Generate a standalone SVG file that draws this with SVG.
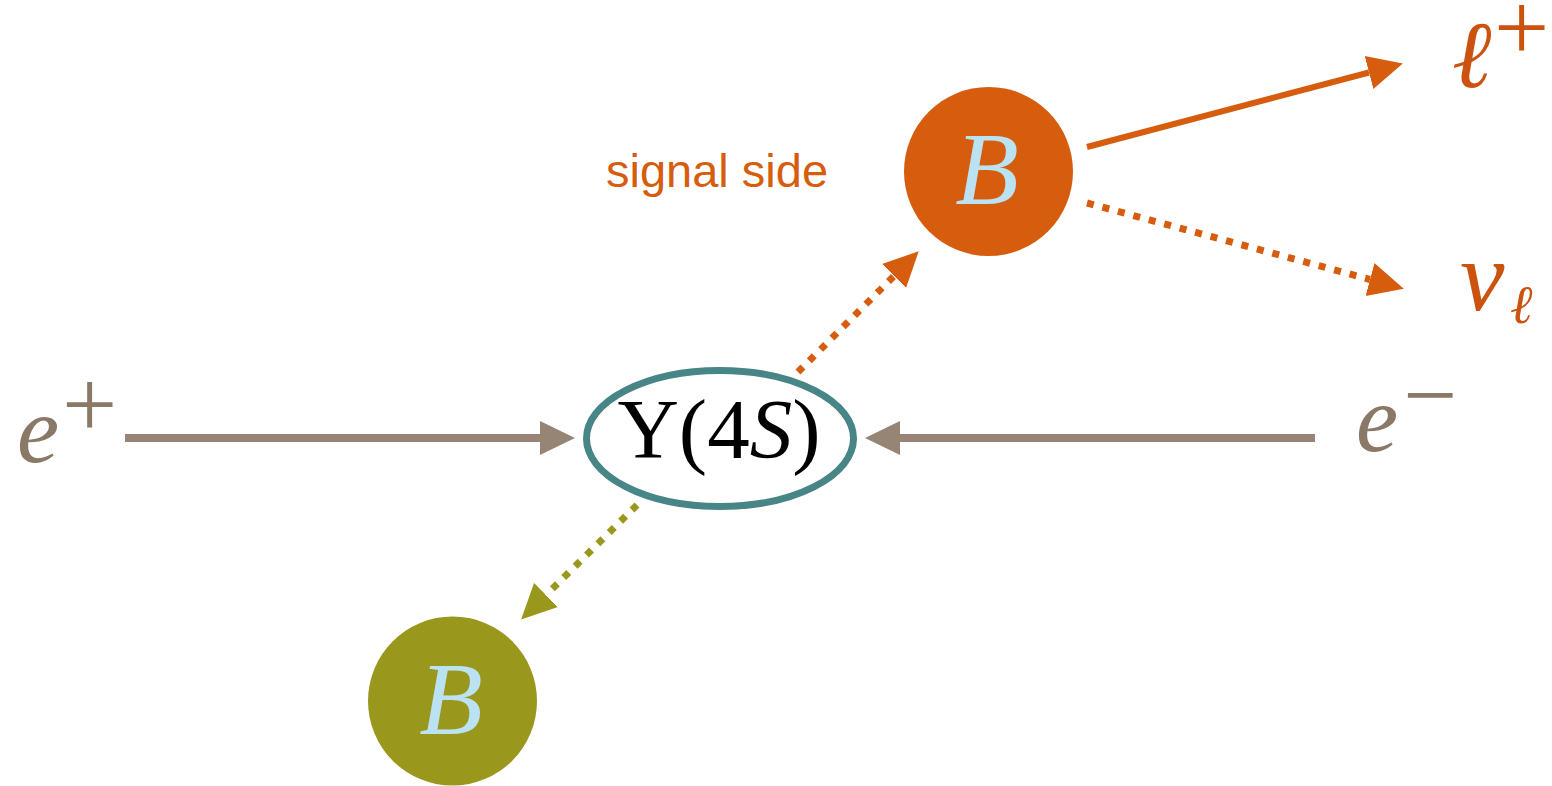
<svg xmlns="http://www.w3.org/2000/svg" width="1552" height="786" viewBox="0 0 1552 786">
<style>
.math{font-family:"Liberation Serif","DejaVu Serif",serif;font-style:italic}
.up{font-family:"Liberation Serif","DejaVu Serif",serif;font-style:normal}
.bl{fill:#BAE2F2;font-size:104px;text-anchor:middle}
.beam{stroke:#968475;stroke-width:8;fill:none}
.dot{stroke-width:7;stroke-dasharray:7 9;fill:none}
</style>
<defs>
<marker id="ahBrown" markerUnits="userSpaceOnUse" markerWidth="36" markerHeight="36" refX="0" refY="18" orient="auto" viewBox="0 0 36 36"><path d="M0,1 L35,18 L0,35 z" fill="#968475"/></marker>
<marker id="ahOrange" markerUnits="userSpaceOnUse" markerWidth="36" markerHeight="36" refX="0" refY="18" orient="auto" viewBox="0 0 36 36"><path d="M0,1 L35,18 L0,35 z" fill="#D65D0E"/></marker>
<marker id="ahOlive" markerUnits="userSpaceOnUse" markerWidth="36" markerHeight="36" refX="0" refY="18" orient="auto" viewBox="0 0 36 36"><path d="M0,1 L35,18 L0,35 z" fill="#9A981C"/></marker>
</defs>
<rect width="1552" height="786" fill="#ffffff"/>
<g id="connectors">
<line class="beam" x1="125" y1="438" x2="540" y2="438" marker-end="url(#ahBrown)"/>
<line class="beam" x1="1315" y1="438" x2="900" y2="438" marker-end="url(#ahBrown)"/>
<line class="dot" stroke="#D65D0E" x1="798" y1="372" x2="894" y2="276" marker-end="url(#ahOrange)"/>
<line class="dot" stroke="#9A981C" x1="637" y1="505" x2="546" y2="595" marker-end="url(#ahOlive)"/>
<line stroke="#D65D0E" stroke-width="6" x1="1087" y1="147" x2="1369" y2="72.5" marker-end="url(#ahOrange)"/>
<line class="dot" stroke="#D65D0E" x1="1087" y1="203" x2="1370" y2="279.5" marker-end="url(#ahOrange)"/>
</g>
<g id="upsilon">
<ellipse cx="720" cy="438.5" rx="133.5" ry="68" fill="#ffffff" stroke="#478587" stroke-width="7"/>
<text x="719" y="458" font-size="85" text-anchor="middle" class="up" fill="#000">Υ(4<tspan class="math">S</tspan>)</text>
</g>
<g id="B-signal">
<circle cx="988.5" cy="171.5" r="84.5" fill="#D65D0E"/>
<text x="987" y="204" class="math bl">B</text>
</g>
<g id="B-tag">
<circle cx="452.5" cy="701" r="84.5" fill="#9A981C"/>
<text x="451" y="734" class="math bl">B</text>
</g>
<g id="signal-label">
<text x="606" y="187" font-family="Liberation Sans, Arial, sans-serif" font-size="47" fill="#D65D0E">signal side</text>
</g>
<g id="e-plus">
<text x="17" y="462" class="math" font-size="95" fill="#8B7968">e</text>
<text x="62" y="437" class="up" font-size="98" fill="#8B7968">+</text>
</g>
<g id="e-minus">
<text x="1356" y="451" class="math" font-size="95" fill="#8B7968">e</text>
<text x="1403" y="427" class="up" font-size="96" fill="#8B7968">−</text>
</g>
<g id="lepton">
<text x="1452" y="87" class="math" font-size="95" fill="#CC5210">ℓ</text>
<text x="1494" y="60" class="up" font-size="98" fill="#CC5210">+</text>
</g>
<g id="neutrino">
<text x="1460" y="310" class="math" font-size="100" fill="#CC5210">ν</text>
<text x="1510" y="323" class="math" font-size="54" fill="#CC5210">ℓ</text>
</g>
</svg>
